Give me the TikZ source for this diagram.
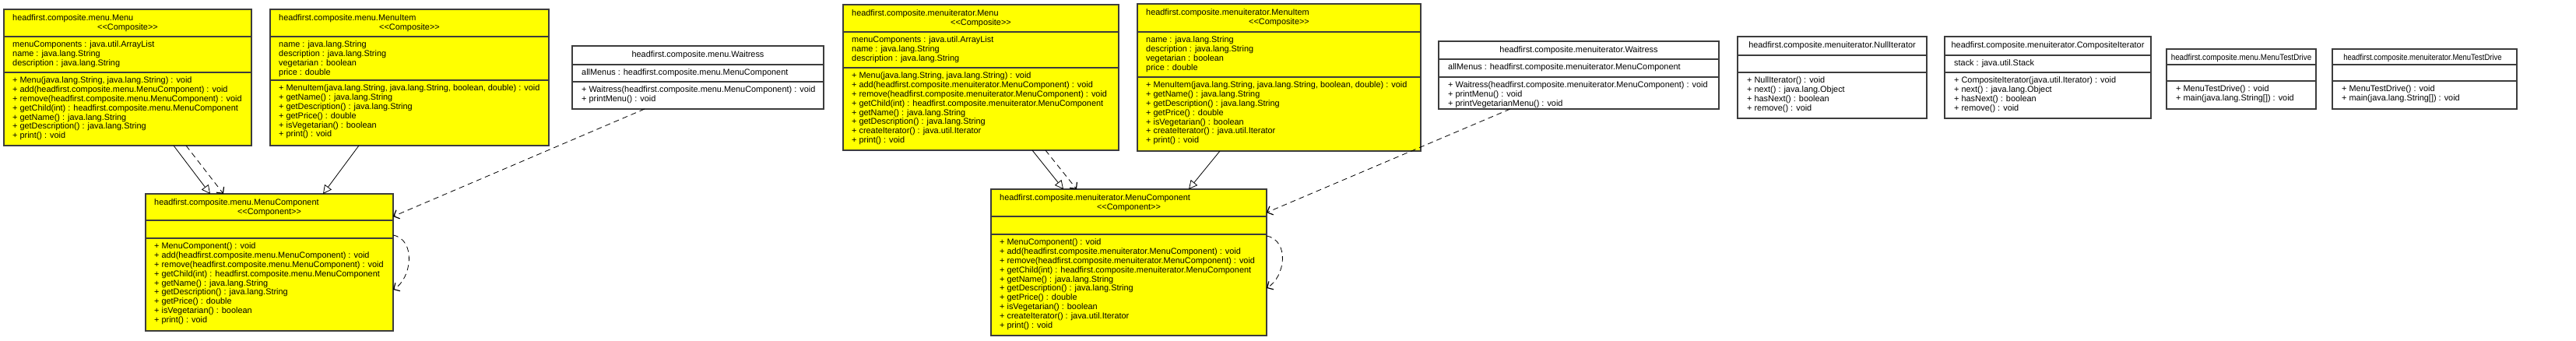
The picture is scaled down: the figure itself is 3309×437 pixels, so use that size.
\documentclass[tikz,border=0pt]{standalone}
\usepackage{fontspec}
\setmainfont{Liberation Sans}[Ligatures=TeXOff]
\usetikzlibrary{arrows.meta,calc}
\definecolor{umlyellow}{RGB}{255,255,0}
\definecolor{umlborder}{RGB}{60,60,60}
\newcommand\tstrut{\rule{0pt}{8.5pt}}
\newcommand\umlclass[8]{%
  \node[#2, minimum width={#5-#3}, minimum height={#6-#4}] (#1) at (#3,#4) {};
  \draw[divider] (#3,#7) -- (#5,#7);
  \draw[divider] (#3,#8) -- (#5,#8);
}
\begin{document}
\begin{tikzpicture}[x=1pt,y=-1pt,
  classbox/.style={draw=umlborder, line width=1.4pt, anchor=north west, inner sep=0pt, outer sep=0pt},
  yel/.style={classbox, fill=umlyellow},
  wht/.style={classbox, fill=white},
  txt/.style={inner sep=0pt, anchor=north west, align=left, font=\fontsize{10.9}{11.8}\selectfont},
  ctxt/.style={txt, anchor=north, align=center},
  divider/.style={draw=umlborder, line width=1.4pt},
  gen/.style={draw=black, line width=0.8pt, -{Triangle[open, length=11pt, width=11pt]}},
  dep/.style={draw=black, line width=0.8pt, dash pattern=on 7pt off 5pt, -{Straight Barb[length=6pt, width=12pt, line width=1.2pt]}},
]
\useasboundingbox[fill=white] (0,0) rectangle (3309,437);

% ---------- package menu ----------
\umlclass{mMenu}{yel}{5}{12}{323}{187}{47}{93}
\node[txt] (mMenuT) at (16,17.5) {\tstrut headfirst.composite.menu.Menu};
\node[ctxt] (mMenuS) at (164,29.3) {\tstrut <<Composite>>};
\node[txt] (mMenuA) at (16,52.2) {\tstrut menuComponents : java.util.ArrayList\\name : java.lang.String\\description : java.lang.String};
\node[txt] (mMenuM) at (16,98.2) {\tstrut + Menu(java.lang.String, java.lang.String) : void\\+ add(headfirst.composite.menu.MenuComponent) : void\\+ remove(headfirst.composite.menu.MenuComponent) : void\\+ getChild(int) : headfirst.composite.menu.MenuComponent\\+ getName() : java.lang.String\\+ getDescription() : java.lang.String\\+ print() : void};

\umlclass{mItem}{yel}{347}{12}{705}{187}{47}{103}
\node[txt] (mItemT) at (358,17.5) {\tstrut headfirst.composite.menu.MenuItem};
\node[ctxt] (mItemS) at (526,29.3) {\tstrut <<Composite>>};
\node[txt] (mItemA) at (358,52.2) {\tstrut name : java.lang.String\\description : java.lang.String\\vegetarian : boolean\\price : double};
\node[txt] (mItemM) at (358,108.2) {\tstrut + MenuItem(java.lang.String, java.lang.String, boolean, double) : void\\+ getName() : java.lang.String\\+ getDescription() : java.lang.String\\+ getPrice() : double\\+ isVegetarian() : boolean\\+ print() : void};

\umlclass{mWait}{wht}{735}{59}{1058}{140}{83}{105}
\node[ctxt] (mWaitT) at (896.5,64.5) {\tstrut headfirst.composite.menu.Waitress};
\node[txt] (mWaitA) at (747,88.2) {\tstrut allMenus : headfirst.composite.menu.MenuComponent};
\node[txt] (mWaitM) at (747,110.2) {\tstrut + Waitress(headfirst.composite.menu.MenuComponent) : void\\+ printMenu() : void};

\umlclass{mComp}{yel}{187}{249}{505}{425}{283}{306}
\node[txt] (mCompT) at (198,254.5) {\tstrut headfirst.composite.menu.MenuComponent};
\node[ctxt] (mCompS) at (346,266.3) {\tstrut <<Component>>};
\node[txt] (mCompM) at (198,311.2) {\tstrut + MenuComponent() : void\\+ add(headfirst.composite.menu.MenuComponent) : void\\+ remove(headfirst.composite.menu.MenuComponent) : void\\+ getChild(int) : headfirst.composite.menu.MenuComponent\\+ getName() : java.lang.String\\+ getDescription() : java.lang.String\\+ getPrice() : double\\+ isVegetarian() : boolean\\+ print() : void};

% ---------- package menuiterator ----------
\umlclass{iMenu}{yel}{1083}{6}{1437}{193}{41}{87}
\node[txt] (iMenuT) at (1094,11.5) {\tstrut headfirst.composite.menuiterator.Menu};
\node[ctxt] (iMenuS) at (1260,23.3) {\tstrut <<Composite>>};
\node[txt] (iMenuA) at (1094,46.2) {\tstrut menuComponents : java.util.ArrayList\\name : java.lang.String\\description : java.lang.String};
\node[txt] (iMenuM) at (1094,92.2) {\tstrut + Menu(java.lang.String, java.lang.String) : void\\+ add(headfirst.composite.menuiterator.MenuComponent) : void\\+ remove(headfirst.composite.menuiterator.MenuComponent) : void\\+ getChild(int) : headfirst.composite.menuiterator.MenuComponent\\+ getName() : java.lang.String\\+ getDescription() : java.lang.String\\+ createIterator() : java.util.Iterator\\+ print() : void};

\umlclass{iItem}{yel}{1461}{5}{1825}{194}{41}{99}
\node[txt] (iItemT) at (1472,10.5) {\tstrut headfirst.composite.menuiterator.MenuItem};
\node[ctxt] (iItemS) at (1643,22.3) {\tstrut <<Composite>>};
\node[txt] (iItemA) at (1472,46.2) {\tstrut name : java.lang.String\\description : java.lang.String\\vegetarian : boolean\\price : double};
\node[txt] (iItemM) at (1472,104.2) {\tstrut + MenuItem(java.lang.String, java.lang.String, boolean, double) : void\\+ getName() : java.lang.String\\+ getDescription() : java.lang.String\\+ getPrice() : double\\+ isVegetarian() : boolean\\+ createIterator() : java.util.Iterator\\+ print() : void};

\umlclass{iWait}{wht}{1848}{53}{2208}{140}{76}{99}
\node[ctxt] (iWaitT) at (2028,58.5) {\tstrut headfirst.composite.menuiterator.Waitress};
\node[txt] (iWaitA) at (1860,81.2) {\tstrut allMenus : headfirst.composite.menuiterator.MenuComponent};
\node[txt] (iWaitM) at (1860,103.8) {\tstrut + Waitress(headfirst.composite.menuiterator.MenuComponent) : void\\+ printMenu() : void\\+ printVegetarianMenu() : void};

\umlclass{nullIt}{wht}{2232}{47}{2475}{152}{71}{93}
\node[ctxt] (nullItT) at (2353.5,52.5) {\tstrut headfirst.composite.menuiterator.NullIterator};
\node[txt] (nullItM) at (2244,98.2) {\tstrut + NullIterator() : void\\+ next() : java.lang.Object\\+ hasNext() : boolean\\+ remove() : void};

\umlclass{compIt}{wht}{2498}{47}{2763}{152}{71}{93}
\node[ctxt] (compItT) at (2630.5,52.5) {\tstrut headfirst.composite.menuiterator.CompositeIterator};
\node[txt] (compItA) at (2510,76.2) {\tstrut stack : java.util.Stack};
\node[txt] (compItM) at (2510,98.2) {\tstrut + CompositeIterator(java.util.Iterator) : void\\+ next() : java.lang.Object\\+ hasNext() : boolean\\+ remove() : void};

\umlclass{mTest}{wht}{2783}{63}{2975}{140}{83}{104}
\node[ctxt] (mTestT) at (2879,68.5) {\tstrut\scalebox{0.9}[1]{headfirst.composite.menu.MenuTestDrive}};
\node[txt] (mTestM) at (2795,109.2) {\tstrut + MenuTestDrive() : void\\+ main(java.lang.String[]) : void};

\umlclass{iTest}{wht}{2996}{63}{3233}{140}{83}{104}
\node[ctxt] (iTestT) at (3112,68.5) {\tstrut\scalebox{0.87}[1]{headfirst.composite.menuiterator.MenuTestDrive}};
\node[txt] (iTestM) at (3008,109.2) {\tstrut + MenuTestDrive() : void\\+ main(java.lang.String[]) : void};

\umlclass{iComp}{yel}{1273}{243}{1627}{431}{278}{301}
\node[txt] (iCompT) at (1284,248.5) {\tstrut headfirst.composite.menuiterator.MenuComponent};
\node[ctxt] (iCompS) at (1450,260.3) {\tstrut <<Component>>};
\node[txt] (iCompM) at (1284,306.2) {\tstrut + MenuComponent() : void\\+ add(headfirst.composite.menuiterator.MenuComponent) : void\\+ remove(headfirst.composite.menuiterator.MenuComponent) : void\\+ getChild(int) : headfirst.composite.menuiterator.MenuComponent\\+ getName() : java.lang.String\\+ getDescription() : java.lang.String\\+ getPrice() : double\\+ isVegetarian() : boolean\\+ createIterator() : java.util.Iterator\\+ print() : void};

% ---------- connectors: menu ----------
\draw[gen] ($(mMenu.south west)+(218,0)$) -- ($(mComp.north west)+(83,0)$);
\draw[dep] ($(mMenu.south west)+(234,0)$) -- ($(mComp.north west)+(100,0)$);
\draw[gen] ($(mItem.south west)+(114,0)$) -- ($(mComp.north west)+(228,0)$);
\draw[dep] ($(mWait.south west)+(93,0)$) -- ($(mComp.north east)+(0,29)$);
\draw[dep] ($(mComp.north east)+(0,53)$) .. controls +(30,6) and +(24,-14) .. ($(mComp.north east)+(0,123)$);

% ---------- connectors: menuiterator ----------
\draw[gen] ($(iMenu.south west)+(243,0)$) -- ($(iComp.north west)+(93,0)$);
\draw[dep] ($(iMenu.south west)+(260,0)$) -- ($(iComp.north west)+(110,0)$);
\draw[gen] ($(iItem.south west)+(106,0)$) -- ($(iComp.north west)+(254,0)$);
\draw[dep] ($(iWait.south west)+(92,0)$) -- ($(iComp.north east)+(0,30)$);
\draw[dep] ($(iComp.north east)+(0,60)$) .. controls +(30,6) and +(24,-14) .. ($(iComp.north east)+(0,127)$);
\end{tikzpicture}
\end{document}
